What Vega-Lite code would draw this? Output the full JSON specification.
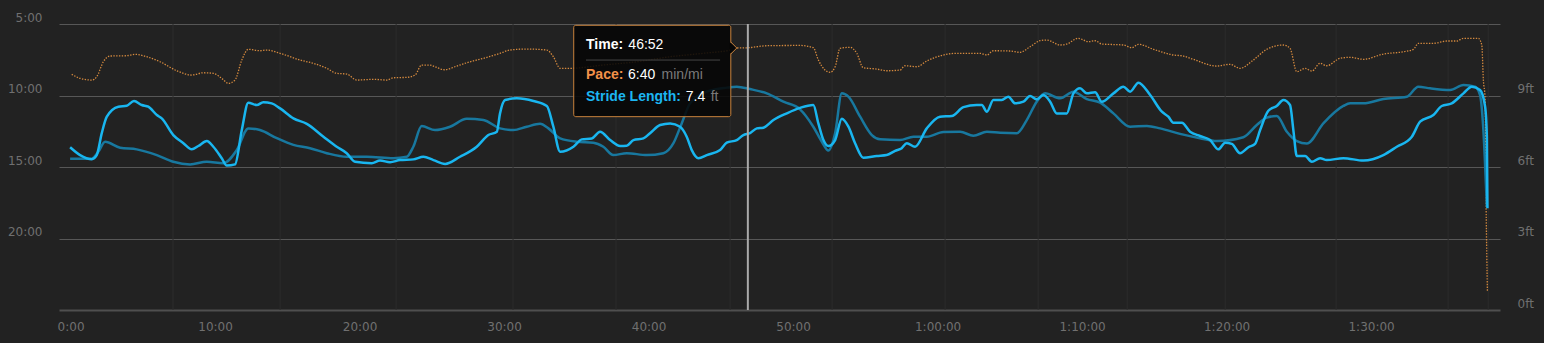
{
 "$schema": "https://vega.github.io/schema/vega-lite/v6.json",
 "width": 1441, "height": 286,
 "autosize": {"type": "none"},
 "padding": {"left": 59, "top": 24, "right": 44, "bottom": 33},
 "background": "#222222",
 "config": {"view": {"stroke": null}, "font": "DejaVu Sans"},
 "datasets": {
  "pace": [
   {"t":0.08,"p":8.52},{"t":0.66,"p":8.80},{"t":1.47,"p":8.92},{"t":1.81,"p":8.69},{"t":2.27,"p":7.64},{"t":2.73,"p":7.24},{"t":3.89,"p":7.22},{"t":4.46,"p":7.12},{"t":5.27,"p":7.29},{"t":6.19,"p":7.64},{"t":7.35,"p":8.27},{"t":8.39,"p":8.57},{"t":9.19,"p":8.41},{"t":9.88,"p":8.45},{"t":10.46,"p":8.80},{"t":10.92,"p":9.15},{"t":11.38,"p":8.92},{"t":11.85,"p":7.52},{"t":12.30,"p":6.77},{"t":13.11,"p":6.87},{"t":13.58,"p":6.82},{"t":14.50,"p":7.05},{"t":15.88,"p":7.52},{"t":16.80,"p":7.75},{"t":17.73,"p":8.10},{"t":18.42,"p":8.45},{"t":19.11,"p":8.50},{"t":19.81,"p":8.92},{"t":20.96,"p":8.87},{"t":21.88,"p":8.92},{"t":22.34,"p":8.76},{"t":23.27,"p":8.73},{"t":23.84,"p":8.57},{"t":24.30,"p":7.87},{"t":24.88,"p":7.87},{"t":25.11,"p":7.94},{"t":25.86,"p":8.20},{"t":26.73,"p":7.94},{"t":27.65,"p":7.64},{"t":28.57,"p":7.40},{"t":29.72,"p":7.05},{"t":30.42,"p":6.82},{"t":31.57,"p":6.75},{"t":32.96,"p":6.82},{"t":33.41,"p":7.29},{"t":33.88,"p":8.10},{"t":34.57,"p":8.10},{"t":36.85,"p":7.87},{"t":39.20,"p":7.64},{"t":41.49,"p":7.29},{"t":43.77,"p":7.05},{"t":45.64,"p":6.82},{"t":46.12,"p":6.68},{"t":46.88,"p":6.66},{"t":48.18,"p":6.52},{"t":50.48,"p":6.50},{"t":51.40,"p":6.66},{"t":51.75,"p":7.52},{"t":52.21,"p":8.22},{"t":52.56,"p":8.38},{"t":52.91,"p":7.99},{"t":53.25,"p":6.70},{"t":53.94,"p":6.63},{"t":54.41,"p":7.05},{"t":54.86,"p":8.06},{"t":55.79,"p":8.15},{"t":56.48,"p":8.27},{"t":57.40,"p":8.22},{"t":57.75,"p":7.92},{"t":58.56,"p":7.99},{"t":59.25,"p":7.59},{"t":60.40,"p":7.17},{"t":61.33,"p":7.05},{"t":62.94,"p":7.05},{"t":63.41,"p":7.17},{"t":63.86,"p":6.87},{"t":65.02,"p":6.89},{"t":65.71,"p":6.98},{"t":66.40,"p":6.59},{"t":67.09,"p":6.17},{"t":67.56,"p":6.12},{"t":68.48,"p":6.47},{"t":68.94,"p":6.40},{"t":69.74,"p":6.00},{"t":70.44,"p":6.24},{"t":70.90,"p":6.17},{"t":71.36,"p":6.40},{"t":72.86,"p":6.47},{"t":73.44,"p":6.66},{"t":73.90,"p":6.42},{"t":74.94,"p":6.77},{"t":76.32,"p":7.17},{"t":77.01,"p":7.24},{"t":77.70,"p":7.47},{"t":79.32,"p":7.94},{"t":80.24,"p":7.82},{"t":80.93,"p":8.10},{"t":81.85,"p":7.52},{"t":82.78,"p":6.77},{"t":83.93,"p":6.47},{"t":84.39,"p":6.70},{"t":84.86,"p":8.34},{"t":85.43,"p":8.10},{"t":85.90,"p":8.29},{"t":86.47,"p":7.75},{"t":86.93,"p":7.92},{"t":87.85,"p":7.40},{"t":88.55,"p":7.33},{"t":89.47,"p":7.47},{"t":90.85,"p":7.10},{"t":92.24,"p":6.94},{"t":92.93,"p":6.77},{"t":93.27,"p":6.35},{"t":94.31,"p":6.35},{"t":95.24,"p":6.19},{"t":95.93,"p":6.19},{"t":96.39,"p":6.00},{"t":97.42,"p":6.00},{"t":97.66,"p":6.47},{"t":97.77,"p":8.92},{"t":97.89,"p":10.20},{"t":97.96,"p":17.78},{"t":98.05,"p":23.72}
  ],
  "stride": [
   {"t":-0.03,"s":6.83},{"t":0.66,"s":6.50},{"t":1.47,"s":6.33},{"t":1.81,"s":6.50},{"t":2.16,"s":7.42},{"t":2.51,"s":8.11},{"t":3.31,"s":8.53},{"t":3.89,"s":8.57},{"t":4.39,"s":8.77},{"t":4.93,"s":8.60},{"t":5.38,"s":8.53},{"t":5.97,"s":8.18},{"t":6.31,"s":8.04},{"t":7.11,"s":7.34},{"t":7.81,"s":7.00},{"t":8.39,"s":6.74},{"t":8.84,"s":6.88},{"t":9.43,"s":7.09},{"t":9.88,"s":6.85},{"t":10.46,"s":6.37},{"t":10.81,"s":6.06},{"t":11.38,"s":6.11},{"t":11.85,"s":7.55},{"t":12.30,"s":8.70},{"t":12.89,"s":8.60},{"t":13.34,"s":8.72},{"t":13.92,"s":8.67},{"t":14.50,"s":8.46},{"t":15.42,"s":8.04},{"t":16.35,"s":7.81},{"t":17.50,"s":7.27},{"t":18.42,"s":6.85},{"t":19.11,"s":6.58},{"t":19.69,"s":6.22},{"t":20.84,"s":6.16},{"t":21.42,"s":6.27},{"t":22.11,"s":6.20},{"t":22.80,"s":6.29},{"t":23.72,"s":6.32},{"t":24.42,"s":6.43},{"t":25.11,"s":6.29},{"t":25.92,"s":6.13},{"t":26.95,"s":6.43},{"t":28.11,"s":6.85},{"t":28.91,"s":7.34},{"t":29.50,"s":7.48},{"t":29.72,"s":8.25},{"t":30.07,"s":8.81},{"t":30.88,"s":8.88},{"t":32.03,"s":8.77},{"t":32.96,"s":8.56},{"t":33.41,"s":7.69},{"t":33.88,"s":6.64},{"t":34.80,"s":6.85},{"t":35.38,"s":7.16},{"t":36.07,"s":7.20},{"t":36.64,"s":7.48},{"t":37.34,"s":7.13},{"t":38.03,"s":6.88},{"t":38.49,"s":6.89},{"t":38.95,"s":7.13},{"t":39.64,"s":7.20},{"t":40.10,"s":7.42},{"t":40.80,"s":7.76},{"t":41.49,"s":7.83},{"t":42.18,"s":7.69},{"t":42.64,"s":7.27},{"t":42.99,"s":6.71},{"t":43.45,"s":6.37},{"t":44.03,"s":6.50},{"t":44.95,"s":6.71},{"t":45.41,"s":7.02},{"t":46.10,"s":7.13},{"t":46.56,"s":7.34},{"t":47.02,"s":7.42},{"t":47.49,"s":7.62},{"t":47.94,"s":7.65},{"t":48.64,"s":7.97},{"t":49.56,"s":8.25},{"t":50.48,"s":8.48},{"t":51.40,"s":8.60},{"t":51.75,"s":7.83},{"t":52.10,"s":7.13},{"t":52.44,"s":6.88},{"t":52.91,"s":7.13},{"t":53.37,"s":8.02},{"t":53.83,"s":7.69},{"t":54.29,"s":7.00},{"t":54.86,"s":6.39},{"t":55.79,"s":6.46},{"t":56.48,"s":6.50},{"t":57.06,"s":6.68},{"t":57.52,"s":6.79},{"t":57.87,"s":7.00},{"t":58.44,"s":6.85},{"t":59.25,"s":7.62},{"t":60.17,"s":8.11},{"t":60.98,"s":8.14},{"t":61.79,"s":8.51},{"t":62.71,"s":8.60},{"t":63.06,"s":8.60},{"t":63.41,"s":8.32},{"t":63.86,"s":8.81},{"t":64.44,"s":8.81},{"t":64.90,"s":8.95},{"t":65.36,"s":8.67},{"t":65.94,"s":8.74},{"t":66.40,"s":8.98},{"t":66.87,"s":8.84},{"t":67.32,"s":9.02},{"t":67.79,"s":8.74},{"t":68.25,"s":8.25},{"t":68.94,"s":8.25},{"t":69.40,"s":9.09},{"t":69.86,"s":9.30},{"t":70.33,"s":9.09},{"t":70.90,"s":9.14},{"t":71.36,"s":8.74},{"t":72.17,"s":9.09},{"t":72.86,"s":9.37},{"t":73.32,"s":9.16},{"t":73.90,"s":9.54},{"t":74.71,"s":9.02},{"t":75.52,"s":8.32},{"t":75.97,"s":8.11},{"t":76.32,"s":7.86},{"t":76.90,"s":7.86},{"t":77.47,"s":7.48},{"t":78.16,"s":7.30},{"t":78.86,"s":7.13},{"t":79.43,"s":6.74},{"t":79.90,"s":7.02},{"t":80.36,"s":6.97},{"t":80.93,"s":6.58},{"t":81.51,"s":6.83},{"t":81.97,"s":6.97},{"t":82.32,"s":7.55},{"t":82.89,"s":8.36},{"t":83.47,"s":8.56},{"t":83.93,"s":8.81},{"t":84.39,"s":8.60},{"t":84.62,"s":7.55},{"t":84.86,"s":6.46},{"t":85.43,"s":6.46},{"t":85.90,"s":6.22},{"t":86.47,"s":6.37},{"t":86.93,"s":6.29},{"t":88.08,"s":6.37},{"t":89.47,"s":6.27},{"t":90.85,"s":6.50},{"t":91.78,"s":6.85},{"t":92.82,"s":7.27},{"t":93.39,"s":7.90},{"t":94.31,"s":8.18},{"t":94.89,"s":8.56},{"t":95.58,"s":8.67},{"t":96.39,"s":9.09},{"t":96.97,"s":9.37},{"t":97.54,"s":9.23},{"t":97.89,"s":8.53},{"t":98.01,"s":7.27},{"t":98.05,"s":4.27}
  ],
  "trend": [
   {"t":-0.03,"s":6.35},{"t":1.47,"s":6.35},{"t":1.92,"s":6.64},{"t":2.39,"s":7.06},{"t":3.43,"s":6.81},{"t":4.58,"s":6.74},{"t":5.97,"s":6.50},{"t":7.11,"s":6.22},{"t":8.27,"s":6.11},{"t":9.43,"s":6.22},{"t":10.57,"s":6.16},{"t":11.50,"s":6.71},{"t":12.30,"s":7.62},{"t":13.11,"s":7.55},{"t":14.27,"s":7.21},{"t":15.42,"s":6.93},{"t":16.57,"s":6.79},{"t":17.73,"s":6.58},{"t":19.11,"s":6.43},{"t":20.50,"s":6.43},{"t":22.34,"s":6.37},{"t":23.27,"s":6.43},{"t":23.72,"s":6.85},{"t":24.30,"s":7.72},{"t":25.22,"s":7.55},{"t":26.26,"s":7.69},{"t":27.42,"s":8.02},{"t":28.57,"s":7.97},{"t":29.72,"s":7.62},{"t":30.64,"s":7.55},{"t":31.57,"s":7.69},{"t":32.49,"s":7.81},{"t":33.07,"s":7.62},{"t":33.88,"s":7.20},{"t":35.03,"s":7.06},{"t":36.18,"s":7.02},{"t":36.87,"s":6.85},{"t":37.56,"s":6.50},{"t":38.49,"s":6.58},{"t":39.88,"s":6.50},{"t":41.02,"s":6.58},{"t":41.72,"s":7.00},{"t":42.30,"s":7.84},{"t":42.87,"s":8.67},{"t":44.03,"s":9.16},{"t":45.41,"s":9.33},{"t":46.10,"s":9.37},{"t":47.02,"s":9.27},{"t":48.18,"s":9.09},{"t":49.33,"s":8.74},{"t":50.48,"s":8.42},{"t":51.40,"s":7.69},{"t":51.99,"s":7.06},{"t":52.44,"s":6.69},{"t":52.91,"s":7.42},{"t":53.37,"s":9.09},{"t":53.83,"s":8.95},{"t":54.64,"s":8.11},{"t":55.45,"s":7.34},{"t":56.02,"s":7.16},{"t":57.40,"s":7.13},{"t":58.33,"s":7.27},{"t":59.25,"s":7.27},{"t":60.40,"s":7.47},{"t":61.56,"s":7.48},{"t":62.48,"s":7.31},{"t":63.41,"s":7.48},{"t":64.33,"s":7.44},{"t":65.48,"s":7.42},{"t":66.17,"s":7.97},{"t":66.86,"s":8.74},{"t":67.44,"s":9.09},{"t":68.48,"s":8.88},{"t":69.40,"s":9.16},{"t":70.33,"s":8.85},{"t":71.25,"s":8.70},{"t":72.17,"s":8.25},{"t":73.32,"s":7.69},{"t":74.48,"s":7.72},{"t":75.40,"s":7.62},{"t":76.78,"s":7.39},{"t":78.16,"s":7.21},{"t":79.32,"s":7.09},{"t":81.16,"s":7.25},{"t":82.09,"s":7.76},{"t":82.78,"s":8.07},{"t":83.47,"s":8.14},{"t":84.17,"s":7.48},{"t":84.86,"s":7.09},{"t":85.55,"s":6.99},{"t":86.71,"s":7.84},{"t":88.08,"s":8.56},{"t":88.55,"s":8.67},{"t":89.47,"s":8.67},{"t":90.85,"s":8.85},{"t":92.47,"s":8.95},{"t":93.27,"s":9.37},{"t":94.08,"s":9.30},{"t":95.47,"s":9.23},{"t":96.39,"s":9.44},{"t":97.20,"s":9.37},{"t":97.54,"s":9.02},{"t":97.77,"s":7.55},{"t":98.01,"s":4.33}
  ],
  "miles": [
   {"mile":1,"t":7.09},{"mile":2,"t":14.50},{"mile":3,"t":22.53},{"mile":4,"t":30.62},{"mile":5,"t":37.75},{"mile":6,"t":45.64},{"mile":7,"t":52.70},{"mile":8,"t":60.52},{"mile":9,"t":66.96},{"mile":10,"t":73.12},{"mile":11,"t":79.90},{"mile":12,"t":87.58},{"mile":13,"t":95.33},{"mile":13.1,"t":98.10}
  ],
  "cursor": [{"t":46.87}],
  "tipbox": [{"t":34.82,"t2":45.69,"p":5.09,"p2":11.48}],
  "tipsep": [{"t":35.67,"t2":44.95,"p":7.52}],
  "tiparrow": [{"t":45.69,"p":6.68}],
  "tipbold": [
   {"t":35.67,"p":6.75,"label":"Time:","role":"time"},
   {"t":35.67,"p":8.87,"label":"Pace:","role":"pace"},
   {"t":35.67,"p":10.36,"label":"Stride Length:","role":"stride"}
  ],
  "tipreg": [
   {"t":38.60,"p":6.75,"label":"46:52","role":"value"},
   {"t":38.58,"p":8.87,"label":"6:40","role":"value"},
   {"t":40.90,"p":8.87,"label":"min/mi","role":"unit"},
   {"t":42.57,"p":10.36,"label":"7.4","role":"value"},
   {"t":44.30,"p":10.36,"label":"ft","role":"unit"}
  ]
 },
 "encoding": {
  "x": {"field": "t", "type": "quantitative",
   "scale": {"domain": [-0.8, 98.92], "nice": false, "zero": false},
   "axis": {"values": [0,10,20,30,40,50,60,70,80,90], "title": null, "grid": false, "ticks": false,
    "domain": true, "domainColor": "#4f4f4f", "domainWidth": 2,
    "labelColor": "#707070", "labelFont": "DejaVu Sans", "labelFontSize": 12, "labelPadding": 11,
    "labelExpr": "datum.value >= 60 ? floor(datum.value/60) + ':' + (datum.value % 60 < 10 ? '0' : '') + (datum.value % 60) + ':00' : datum.value + ':00'"}}
 },
 "layer": [
  {"data": {"name": "miles"}, "mark": {"type": "rule", "color": "#2c2c2c", "strokeWidth": 1}},
  {"data": {"name": "pace"},
   "mark": {"type": "line", "interpolate": "monotone", "color": "#d4893e", "strokeWidth": 1.3, "strokeDash": [1.4, 1.4]},
   "encoding": {"y": {"field": "p", "type": "quantitative", "scale": {"domain": [5, 25], "reverse": true, "nice": false, "zero": false},
    "axis": {"orient": "left", "values": [5,10,15,20], "title": null, "grid": true, "gridColor": "#575757", "gridWidth": 1,
     "ticks": false, "domain": false, "labelColor": "#707070", "labelFont": "DejaVu Sans", "labelFontSize": 12,
     "labelPadding": 17, "labelBaseline": "bottom", "labelExpr": "datum.value + ':00'"}}}},
  {"data": {"name": "trend"},
   "mark": {"type": "line", "interpolate": "monotone", "color": "#18789f", "strokeWidth": 2.5},
   "encoding": {"y": {"field": "s", "type": "quantitative", "scale": {"domain": [0, 12], "nice": false},
    "axis": {"orient": "right", "values": [0,3,6,9], "title": null, "grid": false,
     "ticks": false, "domain": false, "labelColor": "#707070", "labelFont": "DejaVu Sans", "labelFontSize": 12,
     "labelPadding": 17, "labelBaseline": "bottom", "labelExpr": "datum.value + 'ft'"}}}},
  {"data": {"name": "stride"},
   "mark": {"type": "line", "interpolate": "monotone", "color": "#19b6f0", "strokeWidth": 2.5},
   "encoding": {"y": {"field": "s", "type": "quantitative", "scale": {"domain": [0, 12], "nice": false}, "axis": null}}},
  {"data": {"name": "cursor"}, "mark": {"type": "rule", "color": "#a9a9a9", "strokeWidth": 2}},
  {"data": {"name": "tipbox"},
   "mark": {"type": "rect", "fill": "#060606", "fillOpacity": 0.88, "stroke": "#c8823c", "strokeWidth": 1, "cornerRadius": 2},
   "encoding": {"x2": {"field": "t2"},
    "y": {"field": "p", "type": "quantitative", "scale": {"domain": [5, 25], "reverse": true, "nice": false, "zero": false}, "axis": null},
    "y2": {"field": "p2"}}},
  {"data": {"name": "tiparrow"},
   "mark": {"type": "point", "shape": "M -0.2 -1.05 L 1 0 L -0.2 1.05 Z", "filled": true, "color": "#060606", "opacity": 1, "size": 144},
   "encoding": {"y": {"field": "p", "type": "quantitative", "scale": {"domain": [5, 25], "reverse": true, "nice": false, "zero": false}, "axis": null}}},
  {"data": {"name": "tiparrow"},
   "mark": {"type": "point", "shape": "M 0 -1 L 1 0 L 0 1", "filled": false, "color": "#c8823c", "strokeWidth": 1, "opacity": 1, "size": 144},
   "encoding": {"y": {"field": "p", "type": "quantitative", "scale": {"domain": [5, 25], "reverse": true, "nice": false, "zero": false}, "axis": null}}},
  {"data": {"name": "tipsep"},
   "mark": {"type": "rule", "color": "#464646", "strokeWidth": 1},
   "encoding": {"x2": {"field": "t2"},
    "y": {"field": "p", "type": "quantitative", "scale": {"domain": [5, 25], "reverse": true, "nice": false, "zero": false}, "axis": null}}},
  {"data": {"name": "tipbold"},
   "mark": {"type": "text", "align": "left", "baseline": "alphabetic", "font": "Liberation Sans", "fontSize": 14, "fontWeight": "bold"},
   "encoding": {"text": {"field": "label"},
    "y": {"field": "p", "type": "quantitative", "scale": {"domain": [5, 25], "reverse": true, "nice": false, "zero": false}, "axis": null},
    "color": {"field": "role", "type": "nominal", "legend": null,
     "scale": {"domain": ["time","pace","stride","value","unit"], "range": ["#ffffff","#f29149","#1cb6f2","#ffffff","#7a7a7a"]}}}},
  {"data": {"name": "tipreg"},
   "mark": {"type": "text", "align": "left", "baseline": "alphabetic", "font": "Liberation Sans", "fontSize": 14},
   "encoding": {"text": {"field": "label"},
    "y": {"field": "p", "type": "quantitative", "scale": {"domain": [5, 25], "reverse": true, "nice": false, "zero": false}, "axis": null},
    "color": {"field": "role", "type": "nominal", "legend": null,
     "scale": {"domain": ["time","pace","stride","value","unit"], "range": ["#ffffff","#f29149","#1cb6f2","#ffffff","#7a7a7a"]}}}}
 ],
 "resolve": {"scale": {"y": "independent", "color": "independent"}}
}
